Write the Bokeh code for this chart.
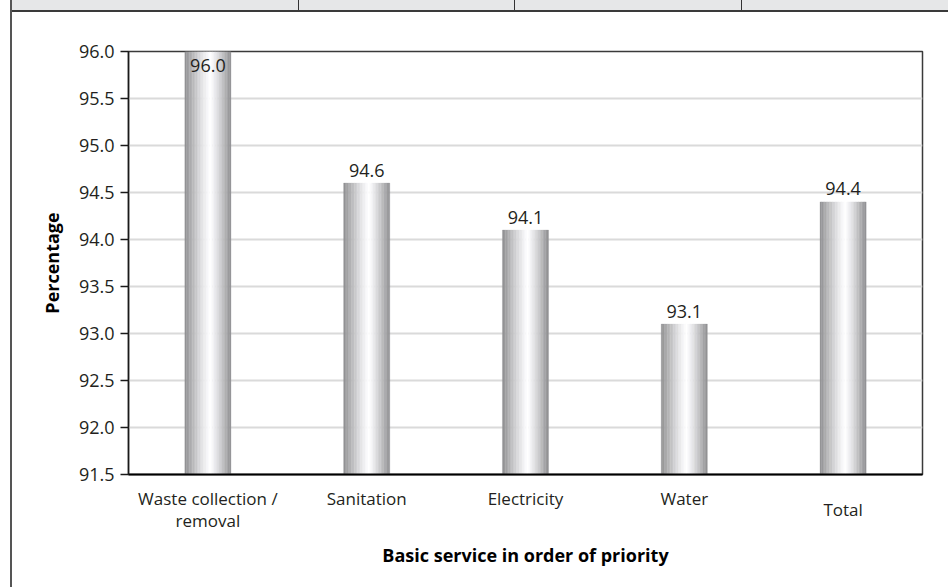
import numpy as np
from bokeh.plotting import figure
from bokeh.layouts import column, row
from bokeh.models import (ColumnDataSource, Range1d, FixedTicker, LabelSet, Div,
                          NumeralTickFormatter, LinearAxis)
from bokeh.transform import dodge
from bokeh.core.properties import value
from bokeh.embed import file_html
from bokeh.resources import INLINE

# ---- data ----
categories = ["Waste collection / removal", "Sanitation", "Electricity", "Water", "Total"]
category_labels = ["Waste collection /\nremoval", "Sanitation", "Electricity", "Water", "Total"]
percentages = [96.0, 94.6, 94.1, 93.1, 94.4]
y_ticks = [91.5, 92.0, 92.5, 93.0, 93.5, 94.0, 94.5, 95.0, 95.5, 96.0]
x_title = "Basic service in order of priority"
y_title = "Percentage"

FONT = "Open Sans"
TXT = "#231f20"
FS_NUM = "18px"
FS_CAT = "17px"
FS_TITLE = "18px"
PAGE_W, PAGE_H = 948, 587
HEAD_H, LEFT_W = 12, 12
W, H = PAGE_W - LEFT_W, PAGE_H - HEAD_H

y_start, y_end = y_ticks[0], y_ticks[-1]
n_cat = len(categories)
centres = [i + 0.5 for i in range(n_cat)]  # category slots on an index axis

p = figure(x_range=Range1d(0, n_cat), y_range=Range1d(y_start, y_end),
           width=W, height=H, output_backend="svg", toolbar_location=None,
           min_border_left=116, min_border_right=26, min_border_top=39, min_border_bottom=113)
p.background_fill_color = "white"
p.border_fill_color = "white"
p.outline_line_color = "#3a3a3a"
p.outline_line_width = 1.5

# gradient bars drawn as thin strips
src = ColumnDataSource(dict(xc=centres, cat=categories, val=percentages,
                            txt=["%.1f" % v for v in percentages],
                            dy=[13 if v < y_end else -14 for v in percentages]))
BAR_W = 0.29
N = 30

def shade(t):
    c = 0.55
    d = (t - c) / c if t < c else (t - c) / (1 - c)
    return int(round(142 + 113 * (1 - abs(d) ** 1.2)))

for i in range(N):
    t = (i + 0.5) / N
    off = -BAR_W / 2 + t * BAR_W
    l = shade(t)
    col = "#%02x%02x%02x" % (l, l, min(255, l + 2))
    p.vbar(x=dodge("xc", off), top="val", bottom=y_start,
           width=BAR_W / N * 1.05, source=src, fill_color=col, line_color=col, line_width=0.3)

# value labels
p.add_layout(LabelSet(x="xc", y="val", text="txt", y_offset="dy", source=src,
                      text_align="center", text_baseline="middle",
                      text_font=value(FONT), text_font_size=value(FS_NUM), text_color=value(TXT)))

# y axis
p.xgrid.grid_line_color = None
p.ygrid.grid_line_color = "#dadada"
p.ygrid.grid_line_width = 2
p.yaxis.ticker = FixedTicker(ticks=y_ticks)
p.yaxis.formatter = NumeralTickFormatter(format="0.0")
p.yaxis.major_tick_out = 8
p.yaxis.major_tick_in = 0
p.yaxis.minor_tick_line_color = None
p.yaxis.major_label_standoff = 6
p.yaxis.axis_line_color = "#1a1a1a"
p.yaxis.axis_line_width = 1.5
p.yaxis.major_tick_line_color = "#1a1a1a"
p.yaxis.major_tick_line_width = 1.5
p.yaxis.major_label_text_font = FONT
p.yaxis.major_label_text_font_size = FS_NUM
p.yaxis.major_label_text_color = TXT
p.yaxis.axis_label = y_title
p.yaxis.axis_label_text_font = FONT
p.yaxis.axis_label_text_font_size = FS_TITLE
p.yaxis.axis_label_text_font_style = "bold"
p.yaxis.axis_label_text_color = "#000000"
p.yaxis.axis_label_standoff = 12

# main x axis: only the baseline
p.xaxis.ticker = FixedTicker(ticks=[])
p.xaxis.major_tick_line_color = None
p.xaxis.major_tick_out = 0
p.xaxis.major_label_standoff = 0
p.xaxis.minor_tick_line_color = None
p.xaxis.minor_tick_out = 0
p.xaxis.axis_line_color = "#000000"
p.xaxis.axis_line_width = 2

split = [lab.split("\n") for lab in category_labels]


def label_axis(ticks, texts, standoff, title=None, title_standoff=0):
    ax = LinearAxis(ticker=FixedTicker(ticks=ticks),
                    major_label_overrides=dict(zip(ticks, texts)))
    ax.axis_line_color = None
    ax.major_tick_line_color = None
    ax.minor_tick_line_color = None
    ax.major_tick_out = 0
    ax.minor_tick_out = 0
    ax.major_label_standoff = standoff
    ax.major_label_text_font = FONT
    ax.major_label_text_font_size = FS_CAT
    ax.major_label_text_color = TXT
    if title:
        ax.axis_label = title
        ax.axis_label_text_font = FONT
        ax.axis_label_text_font_size = FS_TITLE
        ax.axis_label_text_font_style = "bold"
        ax.axis_label_text_color = "#000000"
        ax.axis_label_standoff = title_standoff
    p.add_layout(ax, "below")


# row 1: first lines of all labels except the vertically centred single "Total"
row1 = [(c, s[0]) for c, s, cat in zip(centres, split, categories) if cat != "Total"]
label_axis([r[0] for r in row1], [r[1] for r in row1], 12)
# row 2: second lines
row2 = [(c, s[1]) for c, s in zip(centres, split) if len(s) > 1]
label_axis([r[0] for r in row2], [r[1] for r in row2], -4)
# "Total" sits half a line lower than row 1
rowt = [(c, s[0]) for c, s, cat in zip(centres, split, categories) if cat == "Total"]
label_axis([r[0] for r in rowt], [r[1] for r in rowt], -37, title=x_title, title_standoff=19)

# page frame decorations (table header band and left rule)
dividers = "".join(
    '<div style="position:absolute;left:%dpx;top:0px;width:1.3px;height:10px;background-color:#333333;"></div>'
    % (x - LEFT_W) for x in (298, 514, 741))
header = Div(width=W, height=HEAD_H,
             styles={"padding": "0px", "margin": "0px", "background-color": "#e6e7e8"},
             text='<div style="position:relative;width:%dpx;height:%dpx;margin:0;padding:0;'
                  'background-color:#e6e7e8;">%s'
                  '<div style="position:absolute;left:0px;top:10px;width:%dpx;height:2px;'
                  'background-color:#3a3a3a;"></div></div>' % (W, HEAD_H, dividers, W))
left = Div(width=LEFT_W, height=PAGE_H, styles={"padding": "0px", "margin": "0px"},
           text='<div style="position:relative;width:%dpx;height:%dpx;margin:0;padding:0;">'
                '<div style="position:absolute;left:10px;top:0px;width:1.6px;height:%dpx;'
                'background-color:#555555;"></div></div>' % (LEFT_W, PAGE_H, PAGE_H))

layout = row(left, column(header, p, spacing=0), spacing=0)

open("out.html", "w").write(file_html(layout, INLINE))
